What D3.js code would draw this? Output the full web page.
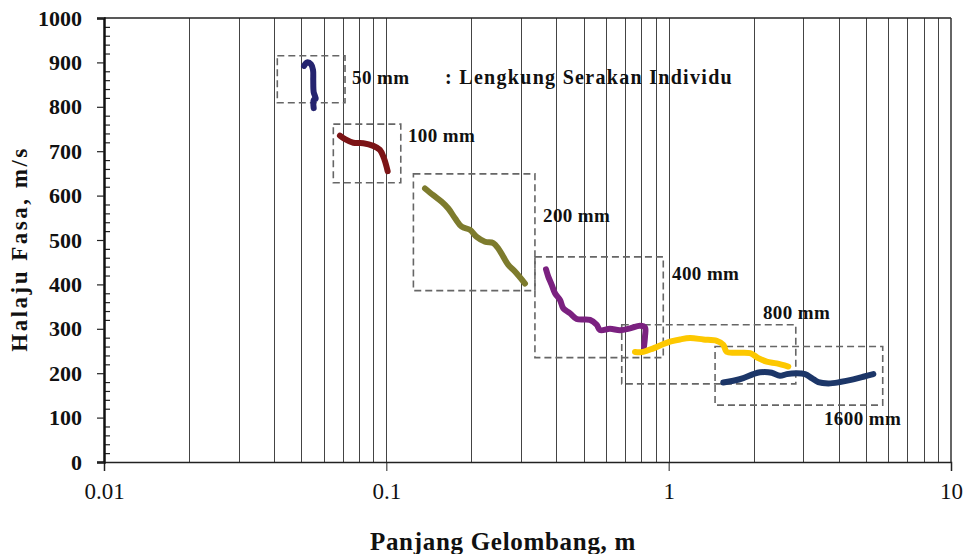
<!DOCTYPE html>
<html>
<head>
<meta charset="utf-8">
<script src="https://cdn.jsdelivr.net/npm/d3@7"></script>
<style>
  body { margin: 0; background: #fff; }
  text { font-family: "Liberation Serif", "DejaVu Serif", serif; fill: #111; }
</style>
</head>
<body>
<svg id="chart" width="963" height="554"></svg>
<script>
// wavelength (m) and phase velocity (m/s) for each individual dispersion curve
const names = ["50 mm", "100 mm", "200 mm", "400 mm", "800 mm", "1600 mm"];
const colors = ["#25246f", "#7c1416", "#7d7b2d", "#7b2180", "#fdc800", "#1c3668"];

const x50 = [0.0511, 0.0524, 0.0541, 0.0550, 0.0551, 0.0553, 0.0562, 0.0553, 0.0553];
const y50 = [892, 900, 896, 883, 860, 833, 818, 815, 797];

const x100 = [0.0685, 0.0714, 0.0764, 0.0829, 0.0899, 0.0949, 0.0981, 0.1011];
const y100 = [735, 727, 719, 718, 712, 703, 684, 655];

const x200 = [0.1371, 0.1466, 0.1571, 0.1658, 0.1751, 0.1849, 0.1978, 0.2090, 0.2236, 0.2393, 0.2492, 0.2597, 0.2704, 0.2855, 0.3098];
const y200 = [616, 601, 586, 571, 549, 530, 523, 507, 496, 493, 481, 462, 444, 429, 402];

const x400 = [0.3677, 0.3748, 0.3853, 0.3958, 0.4122, 0.4235, 0.4472, 0.4724, 0.5265, 0.5562, 0.5714, 0.6197, 0.6724, 0.7295, 0.7915, 0.8243, 0.8243, 0.8177];
const y400 = [434, 417, 399, 380, 365, 346, 335, 322, 320, 309, 297, 300, 297, 301, 307, 303, 282, 260];

const x800 = [0.760, 0.813, 0.882, 0.945, 1.011, 1.097, 1.190, 1.327, 1.480, 1.561, 1.605, 1.742, 1.942, 2.077, 2.224, 2.413, 2.653];
const y800 = [248, 248, 256, 264, 271, 276, 279, 276, 273, 264, 248, 246, 245, 234, 226, 222, 215];

const x1600 = [1.561, 1.694, 1.838, 1.994, 2.106, 2.317, 2.479, 2.619, 2.841, 3.040, 3.212, 3.388, 3.677, 4.045, 4.508, 4.891, 5.307];
const y1600 = [179, 183, 189, 198, 202, 201, 194, 198, 200, 198, 189, 180, 177, 180, 186, 192, 198];

// dashed boxes around each curve (wavelength range, velocity range)
const boxX0 = [0.0411, 0.0649, 0.1247, 0.336, 0.682, 1.46];
const boxX1 = [0.0714, 0.1125, 0.336, 0.957, 2.82, 5.73];
const boxY0 = [809, 629, 386, 235, 176, 128];
const boxY1 = [915, 761, 649, 462, 309, 260];

// where each box label sits (data coordinates of its left baseline)
const labelX = [0.0756, 0.1193, 0.3588, 1.028, 2.158, 3.549];
const labelY = [851, 721, 541, 410, 322, 83];

const xTicks = [0.01, 0.1, 1, 10];
const yTicks = [0, 100, 200, 300, 400, 500, 600, 700, 800, 900, 1000];

const svg = d3.select("#chart");
const plotL = 104, plotR = 951, plotT = 18, plotB = 462;

const x = d3.scaleLog().domain([0.01, 10]).range([plotL, plotR]);
const y = d3.scaleLinear().domain([0, 1000]).range([plotB, plotT]);

// vertical log grid lines
const grid = [];
[0.01, 0.1, 1].forEach(d => { for (let k = 1; k <= 9; k++) grid.push(d * k); });
svg.append("g")
  .selectAll("line")
  .data(grid.filter(v => v > 0.0101))
  .join("line")
    .attr("x1", d => Math.round(x(d)) + 0.5)
    .attr("x2", d => Math.round(x(d)) + 0.5)
    .attr("y1", plotT)
    .attr("y2", plotB)
    .attr("stroke", "#444")
    .attr("stroke-width", 1);

// frame top and right
svg.append("line").attr("x1", plotL).attr("x2", plotR).attr("y1", plotT).attr("y2", plotT)
  .attr("stroke", "#222").attr("stroke-width", 1.5);
svg.append("line").attr("x1", plotR).attr("x2", plotR).attr("y1", plotT).attr("y2", plotB)
  .attr("stroke", "#333").attr("stroke-width", 1.5);

// x axis
const xAxis = svg.append("g")
  .attr("transform", `translate(0,${plotB})`)
  .call(d3.axisBottom(x).tickValues(xTicks).tickFormat(d3.format("~g")).tickSize(9).tickPadding(12));
xAxis.select(".domain").attr("stroke", "#222").attr("stroke-width", 1.5);
xAxis.selectAll(".tick line").attr("stroke", "#222");
xAxis.selectAll("text")
  .style("font-family", "'Liberation Serif', serif")
  .attr("font-size", 23)
  .attr("fill", "#111");

// y axis minor ticks (inside)
const yMinor = d3.range(0, 1001, 20).filter(v => v % 100 !== 0);
svg.append("g")
  .attr("transform", `translate(${plotL},0)`)
  .call(d3.axisRight(y).tickValues(yMinor).tickSize(6).tickFormat(""))
  .call(g => g.select(".domain").remove())
  .selectAll("line").attr("stroke", "#222").attr("stroke-width", 1.2);

const yAxis = svg.append("g")
  .attr("transform", `translate(${plotL},0)`)
  .call(d3.axisLeft(y).tickValues(yTicks).tickFormat(d3.format("d")).tickSize(7).tickPadding(15));
yAxis.select(".domain").attr("stroke", "#111").attr("stroke-width", 2.5);
yAxis.selectAll(".tick line").attr("stroke", "#222").attr("stroke-width", 1.2);
yAxis.selectAll("text")
  .style("font-family", "'Liberation Serif', serif")
  .attr("font-size", 22)
  .attr("font-weight", "bold")
  .attr("fill", "#111");

// dashed boxes
svg.append("g")
  .selectAll("rect")
  .data(names)
  .join("rect")
    .attr("x", (d, i) => x(boxX0[i]))
    .attr("y", (d, i) => y(boxY1[i]))
    .attr("width", (d, i) => x(boxX1[i]) - x(boxX0[i]))
    .attr("height", (d, i) => y(boxY0[i]) - y(boxY1[i]))
    .attr("fill", "none")
    .attr("stroke", "#666")
    .attr("stroke-width", 1.6)
    .attr("stroke-dasharray", "7,4");

// curves
const seriesX = [x50, x100, x200, x400, x800, x1600];
const seriesY = [y50, y100, y200, y400, y800, y1600];
const line = d3.line().x(d => x(d[0])).y(d => y(d[1])).curve(d3.curveCatmullRom.alpha(0.5));
svg.append("g")
  .selectAll("path")
  .data(seriesX.map((xs, i) => xs.map((v, j) => [v, seriesY[i][j]])))
  .join("path")
    .attr("d", line)
    .attr("fill", "none")
    .attr("stroke", (d, i) => colors[i])
    .attr("stroke-width", 6)
    .attr("stroke-linecap", "round")
    .attr("stroke-linejoin", "round");

// box labels
svg.append("g")
  .selectAll("text")
  .data(names)
  .join("text")
    .attr("x", (d, i) => x(labelX[i]))
    .attr("y", (d, i) => y(labelY[i]))
    .attr("font-size", 19)
    .attr("font-weight", "bold")
    .attr("letter-spacing", 0.4)
    .text(d => d);

svg.append("text")
  .attr("x", 445)
  .attr("y", y(851))
  .attr("font-size", 20)
  .attr("font-weight", "bold")
  .attr("letter-spacing", 1.3)
  .text(": Lengkung Serakan Individu");

// axis titles
svg.append("text")
  .attr("x", 503)
  .attr("y", 550)
  .attr("text-anchor", "middle")
  .attr("font-size", 25)
  .attr("font-weight", "bold")
  .attr("letter-spacing", 0.7)
  .text("Panjang Gelombang, m");

svg.append("text")
  .attr("transform", "translate(27,249) rotate(-90)")
  .attr("text-anchor", "middle")
  .attr("font-size", 23)
  .attr("font-weight", "bold")
  .attr("letter-spacing", 2.5)
  .text("Halaju Fasa, m/s");
</script>
</body>
</html>
